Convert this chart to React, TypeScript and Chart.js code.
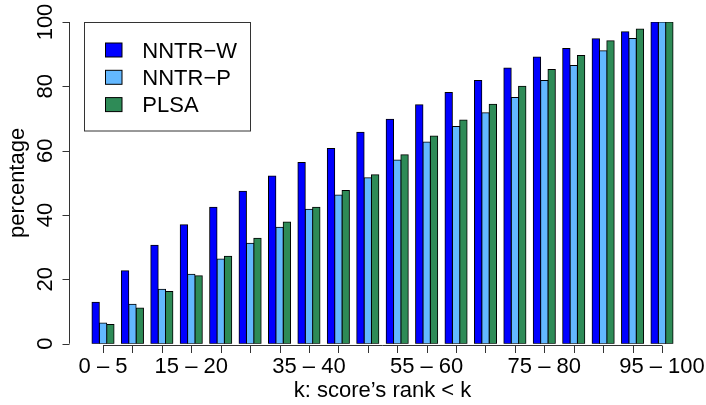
import React, { useEffect, useRef } from "react";
import { Chart, registerables } from "chart.js";

Chart.register(...registerables);

const categories = [
  "0 – 5", "5 – 10", "10 – 15", "15 – 20", "20 – 25", "25 – 30", "30 – 35", "35 – 40", "40 – 45", "45 – 50",
  "50 – 55", "55 – 60", "60 – 65", "65 – 70", "70 – 75", "75 – 80", "80 – 85", "85 – 90", "90 – 95", "95 – 100",
];
const shownLabelIdx = [0, 3, 7, 11, 15, 19];
const nntrW = [12.9, 22.7, 30.6, 37.0, 42.4, 47.4, 52.1, 56.3, 60.7, 65.7, 69.8, 74.3, 78.1, 81.8, 85.7, 89.1, 91.8, 94.8, 97.0, 100];
const nntrP = [6.4, 12.3, 16.9, 21.6, 26.3, 31.2, 36.2, 41.8, 46.2, 51.6, 57.1, 62.7, 67.5, 71.8, 76.5, 81.8, 86.5, 91.1, 94.9, 100];
const plsa = [6.0, 11.1, 16.2, 21.1, 27.2, 32.8, 37.8, 42.4, 47.6, 52.5, 58.7, 64.6, 69.5, 74.4, 80.0, 85.2, 89.6, 94.2, 97.8, 100];
const seriesNames = ["NNTR−W", "NNTR−P", "PLSA"];
const seriesColors = ["#0000FF", "#63B8FF", "#2E8B57"];
const yTicks = [0, 20, 40, 60, 80, 100];
const xTitle = "k: score’s rank < k";
const yTitle = "percentage";

const FONT = '22px "Liberation Sans", Arial, Helvetica, sans-serif';

const rPlugin = {
  id: "rStyle",
  afterDraw(chart: any) {
    const ctx: CanvasRenderingContext2D = chart.ctx;
    const xs = chart.scales.x;
    const ys = chart.scales.y;
    const area = chart.chartArea;
    ctx.save();
    ctx.strokeStyle = "#333";
    ctx.lineWidth = 1;
    ctx.fillStyle = "#000";
    ctx.font = FONT;

    // y axis
    const ax = 69.5;
    ctx.beginPath();
    ctx.moveTo(ax, ys.getPixelForValue(yTicks[0]));
    ctx.lineTo(ax, ys.getPixelForValue(yTicks[yTicks.length - 1]));
    for (const t of yTicks) {
      const py = Math.round(ys.getPixelForValue(t)) + 0.5;
      ctx.moveTo(ax - 7, py);
      ctx.lineTo(ax, py);
    }
    ctx.stroke();
    for (const t of yTicks) {
      const py = ys.getPixelForValue(t);
      ctx.save();
      ctx.translate(52, py);
      ctx.rotate(-Math.PI / 2);
      ctx.textAlign = "center";
      ctx.textBaseline = "alphabetic";
      ctx.fillText(String(t), 0, 0);
      ctx.restore();
    }

    // x axis
    const ay = 345.5;
    ctx.beginPath();
    ctx.moveTo(xs.getPixelForValue(0), ay);
    ctx.lineTo(xs.getPixelForValue(categories.length - 1), ay);
    for (let i = 0; i < categories.length; i++) {
      const px = Math.round(xs.getPixelForValue(i)) + 0.5;
      ctx.moveTo(px, ay);
      ctx.lineTo(px, ay + 7.5);
    }
    ctx.stroke();
    ctx.textAlign = "center";
    ctx.textBaseline = "alphabetic";
    for (const i of shownLabelIdx) {
      ctx.fillText(categories[i], xs.getPixelForValue(i), 372.5);
    }

    // titles
    ctx.fillText(xTitle, (area.left + area.right) / 2, 396.5);
    ctx.save();
    ctx.translate(23.5, ys.getPixelForValue(50));
    ctx.rotate(-Math.PI / 2);
    ctx.fillText(yTitle, 0, 0);
    ctx.restore();

    // legend
    ctx.strokeStyle = "#333";
    ctx.strokeRect(84.5, 22.5, 166, 108.5);
    const ds = chart.data.datasets;
    ctx.textAlign = "left";
    for (let i = 0; i < ds.length; i++) {
      const cy = 50 + i * 27.3;
      ctx.fillStyle = ds[i].backgroundColor;
      ctx.fillRect(105.5, cy - 7, 16.5, 14);
      ctx.strokeStyle = "#000";
      ctx.strokeRect(105.5, cy - 7, 16.5, 14);
      ctx.fillStyle = "#000";
      ctx.fillText(ds[i].label, 142.3, cy + 7.5);
    }
    ctx.restore();
  },
};

export default function App() {
  const ref = useRef<HTMLCanvasElement | null>(null);
  useEffect(() => {
    document.body.style.margin = "0";
    if (!ref.current) return;
    const seriesData = [nntrW, nntrP, plsa];
    const chart = new Chart(ref.current, {
      type: "bar",
      data: {
        labels: categories,
        datasets: seriesNames.map((name, i) => ({
          label: name,
          data: seriesData[i],
          backgroundColor: seriesColors[i],
          borderColor: "#000",
          borderWidth: 1,
          borderSkipped: false,
          inflateAmount: 0.5,
          categoryPercentage: 0.75,
          barPercentage: 1.0,
        })),
      },
      options: {
        responsive: false,
        animation: false,
        devicePixelRatio: 1,
        layout: { padding: { left: 88.3, right: 29.3, top: 22, bottom: 61.3 } },
        plugins: { legend: { display: false }, tooltip: { enabled: false } },
        scales: {
          x: { display: false, offset: true },
          y: { display: false, min: 0, max: 100 },
        },
      },
      plugins: [rPlugin],
    });
    return () => chart.destroy();
  }, []);
  return (
    <div style={{ width: 706, height: 405, background: "#fff" }}>
      <canvas ref={ref} width={706} height={405} style={{ display: "block" }} />
    </div>
  );
}
